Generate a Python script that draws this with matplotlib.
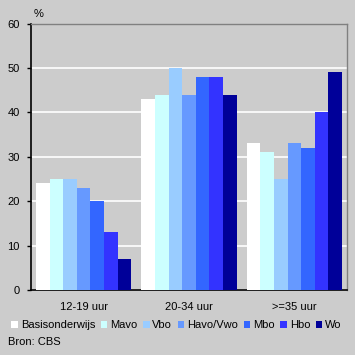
import matplotlib
matplotlib.use("Agg")
import matplotlib.pyplot as plt
import numpy as np

plt.rcParams['font.family'] = ['Liberation Sans', 'DejaVu Sans']

categories = ["12-19 uur", "20-34 uur", ">=35 uur"]
series = ["Basisonderwijs", "Mavo", "Vbo", "Havo/Vwo", "Mbo", "Hbo", "Wo"]
values = {
    "Basisonderwijs": [24, 43, 33],
    "Mavo": [25, 44, 31],
    "Vbo": [25, 50, 25],
    "Havo/Vwo": [23, 44, 33],
    "Mbo": [20, 48, 32],
    "Hbo": [13, 48, 40],
    "Wo": [7, 44, 49],
}
colors = ["#FFFFFF", "#CCFFFF", "#99CCFF", "#6699FF", "#3366FF", "#3333FF", "#000099"]
yticks = [0, 10, 20, 30, 40, 50, 60]

bg = "#CCCCCC"
fig = plt.figure(figsize=(3.55, 3.55), dpi=100, facecolor=bg)
ax = fig.add_axes([31/355, 1-290/355, (347-31)/355, (290-23.5)/355])
ax.set_facecolor(bg)

x = np.arange(len(categories))
w = 0.129
n = len(series)
for i, s in enumerate(series):
    ax.bar(x + (i - (n-1)/2) * w, values[s], width=w, color=colors[i], label=s,
           linewidth=0, zorder=3)

ax.set_xlim(-0.5, 2.5)
ax.set_ylim(0, 60)
ax.set_yticks(yticks)
ax.yaxis.grid(True, color="white", linewidth=1.2, zorder=0)
ax.set_axisbelow(True)
ax.set_xticks(x)
ax.set_xticklabels(categories, fontsize=8)
ax.tick_params(axis='x', length=0, pad=9)
ax.tick_params(axis='y', direction='out', length=3, width=1, labelsize=8, pad=5)
for side in ['top', 'right']:
    ax.spines[side].set_color("#808080")
    ax.spines[side].set_linewidth(1)
for side in ['left', 'bottom']:
    ax.spines[side].set_color("black")
    ax.spines[side].set_linewidth(1.2)

fig.text(34/355, 1-14/355, "%", fontsize=8, ha='left', va='center')

leg = fig.legend(loc='center', bbox_to_anchor=(176.5/355, 1-325/355), ncol=7, frameon=False,
                 fontsize=8, handlelength=0.6, handleheight=0.6, handletextpad=0.25,
                 columnspacing=0.5, borderaxespad=0, borderpad=0)
fig.text(8/355, 1-342/355, "Bron: CBS", fontsize=8, ha='left', va='center')

fig.savefig("out.png", dpi=100, facecolor=bg)
